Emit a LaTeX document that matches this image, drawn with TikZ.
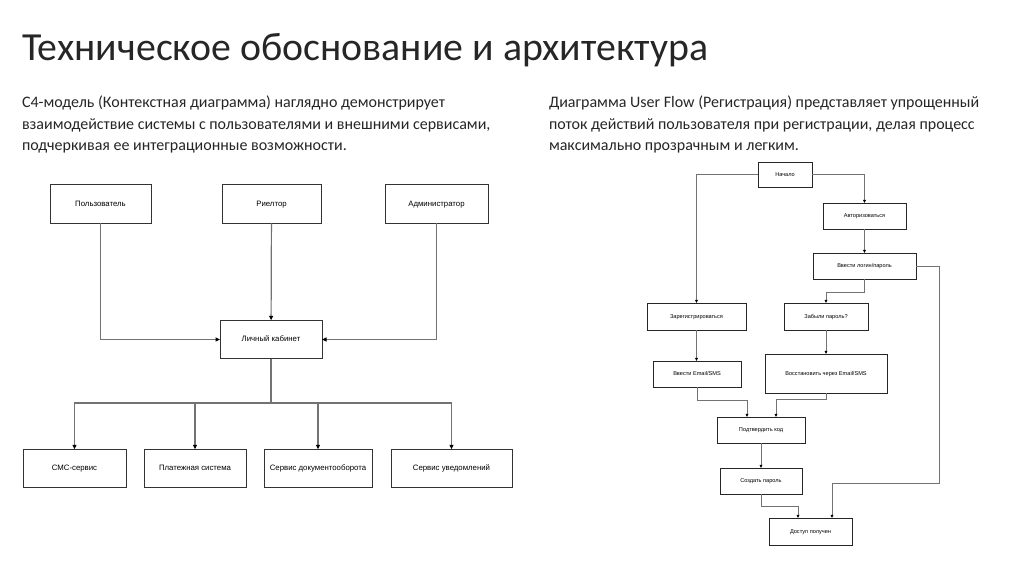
\documentclass[tikz,border=0pt]{standalone}
\usepackage{fontspec}
\setmainfont{Carlito}
\newfontfamily\diagfont{Liberation Sans}
\usetikzlibrary{arrows.meta,positioning}

\begin{document}
\begin{tikzpicture}[
    x=1pt, y=-1pt,
    every node/.style={inner sep=0pt, outer sep=0pt},
    box/.style={
        draw=black!80,
        line width=0.9pt,
        fill=white,
        minimum height=38.5,
        text height=5.8pt,
        text depth=1.6pt,
        font=\diagfont\fontsize{7.8}{9}\selectfont
    },
    ubox/.style={
        draw=black!85,
        line width=0.8pt,
        fill=white,
        minimum height=26,
        text height=4.2pt,
        text depth=1.2pt,
        font=\diagfont\fontsize{5.6}{7}\selectfont
    },
    flow/.style={
        -{Triangle[length=4.5pt,width=4pt,color=black]},
        draw=black!55,
        line width=1.2pt
    },
    uflow/.style={
        -{Triangle[length=3.2pt,width=2.8pt,color=black]},
        draw=black!55,
        line width=0.7pt
    },
    para/.style={
        align=left,
        anchor=north west,
        text=black!85,
        font=\fontsize{16}{21.5}\selectfont
    }
]
\useasboundingbox (0,0) rectangle (1024,574);
\fill[white] (0,0) rectangle (1024,574);

% title and text
\node[anchor=base west, text=black!85, font=\fontsize{39.8}{48}\selectfont] (title) at (22,60) {Техническое обоснование и архитектура};
\node[para] (c4text) at (22,96) {С4-модель (Контекстная диаграмма) наглядно демонстрирует\\взаимодействие системы с пользователями и внешними сервисами,\\подчеркивая ее интеграционные возможности.};
\node[para] (flowtext) at (549,96) {Диаграмма User Flow (Регистрация) представляет упрощенный\\поток действий пользователя при регистрации, делая процесс\\максимально прозрачным и легким.};

% context diagram
\node[box, minimum width=101] (user) at (100.5,204) {Пользователь};
\node[box, minimum width=99] (realtor) at (271.5,204) {Риелтор};
\node[box, minimum width=103] (admin) at (436.5,204) {Администратор};
\node[box, minimum width=102] (cabinet) at (271,339.5) {Личный кабинет};
\node[box, minimum width=103] (sms) at (74.5,468.5) {СМС-сервис};
\node[box, minimum width=102] (pay) at (195,468.5) {Платежная система};
\node[box, minimum width=108] (docs) at (318,468.5) {Сервис документооборота};
\node[box, minimum width=121] (notify) at (451.5,468.5) {Сервис уведомлений};
\coordinate (bus) at (271,403);

\draw[flow] (user.south) |- (cabinet.west);
\draw[flow] (realtor) -- (cabinet);
\draw[flow] (admin.south) |- (cabinet.east);
\draw[draw=black!55, line width=1.2pt] (cabinet.south) -- (bus);
\foreach \s in {sms,pay,docs,notify}
    \draw[flow] (bus) -| (\s.north);

% user flow
\node[ubox, minimum width=54, minimum height=25] (start) at (785,174.5) {Начало};
\node[ubox, minimum width=83] (auth) at (864.5,216) {Авторизоваться};
\node[ubox, minimum width=103] (login) at (864.5,266) {Ввести логин/пароль};
\node[ubox, minimum width=99, minimum height=27] (register) at (696.5,316.5) {Зарегистрироваться};
\node[ubox, minimum width=84, minimum height=27] (forgot) at (826,316.5) {Забыли пароль?};
\node[ubox, minimum width=88] (emailreg) at (697,374) {Ввести Email/SMS};
\node[ubox, minimum width=122, minimum height=39] (restore) at (826,373.5) {Восстановить через Email/SMS};
\node[ubox, minimum width=88] (confirm) at (761,430) {Подтвердить код};
\node[ubox, minimum width=82] (create) at (761,481) {Создать пароль};
\node[ubox, minimum width=83, minimum height=27] (access) at (810.5,531.5) {Доступ получен};

\draw[uflow] (start.west) -| (register.north);
\draw[uflow] (start.east) -| (auth.north);
\draw[uflow] (auth) -- (login);
\draw[uflow] (login.south) -- ++(0,13) -| (forgot.north);
\draw[uflow] (login.east) -| (939,483) -| ([xshift=21.5pt]access.north);
\draw[uflow] (register.south) -- (register.south |- emailreg.north);
\draw[uflow] (forgot) -- (restore);
\draw[uflow] (emailreg.south) -- ++(0,13) -| ([xshift=-14pt]confirm.north);
\draw[uflow] (restore.south) -- ++(0,6.5) -| ([xshift=15pt]confirm.north);
\draw[uflow] (confirm) -- (create);
\draw[uflow] (create.south) -- ++(0,12) -| ([xshift=-12.5pt]access.north);
\end{tikzpicture}
\end{document}
